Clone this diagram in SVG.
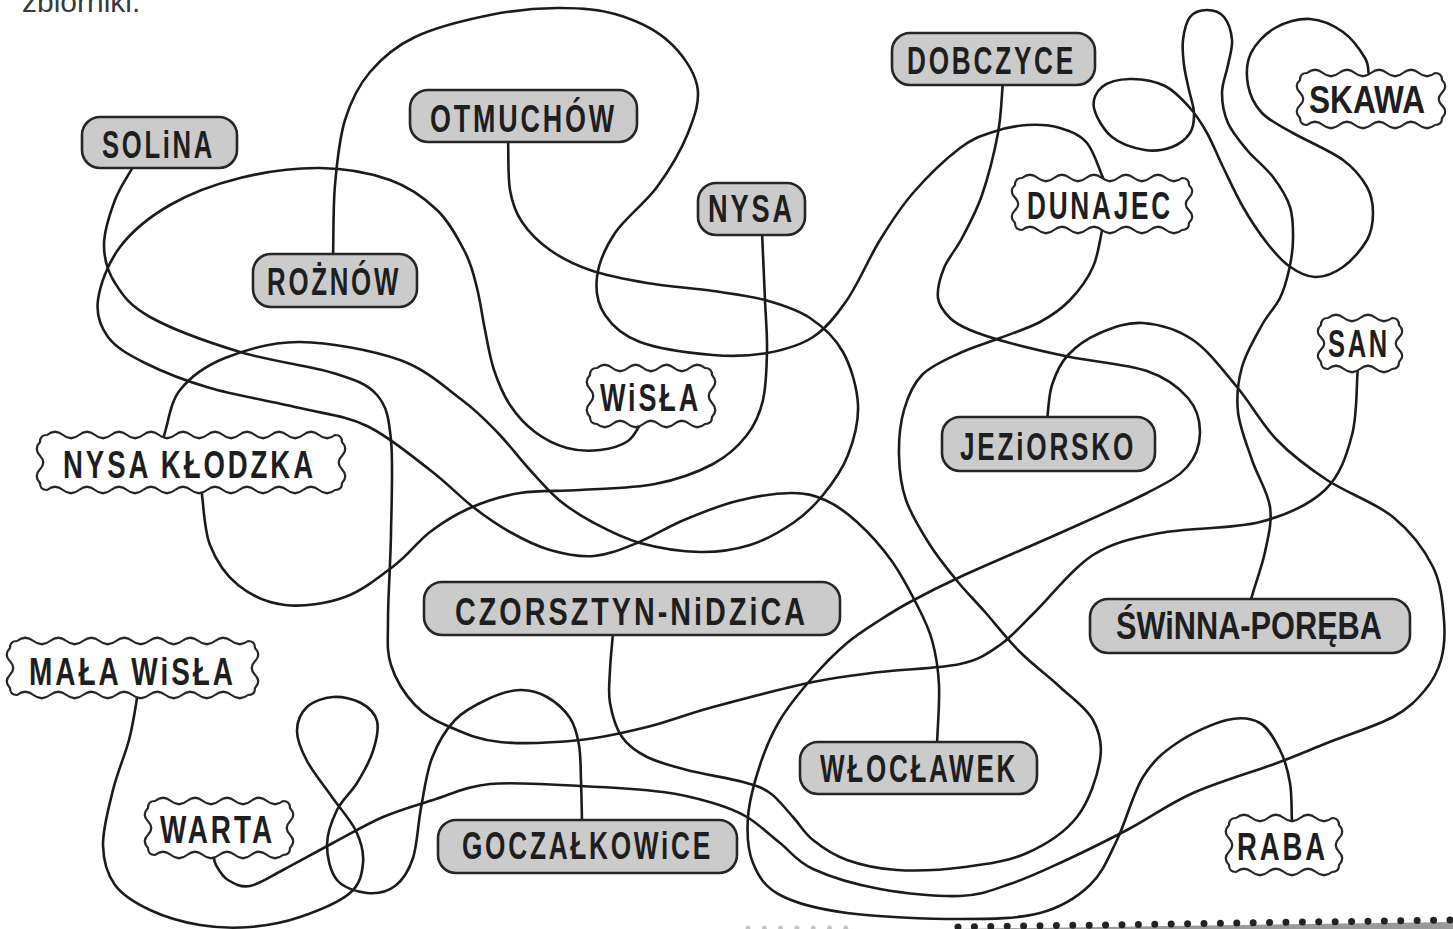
<svg xmlns="http://www.w3.org/2000/svg" width="1453" height="929" viewBox="0 0 1453 929">
<style>
.ln{fill:none;stroke:#1b1b1b;stroke-width:2.6;stroke-linecap:round;stroke-linejoin:round}
.box{fill:#cbcbcb;stroke:#262626;stroke-width:2.6}
.wave{fill:#ffffff;stroke:#262626;stroke-width:2.2;stroke-linejoin:round}
.lbl{font-family:"Liberation Sans",Arial,sans-serif;font-weight:bold;font-size:38px;letter-spacing:4px;fill:#1e1e1e}
.tight{letter-spacing:0px}
</style>
<rect x="0" y="0" width="1453" height="929" fill="#ffffff"/>
<text x="22" y="12" font-family="Liberation Sans, Arial, sans-serif" font-size="30" fill="#3a3a3a">zbiorniki.</text>

<g id="connectors">
<path class="ln" d="M333,258 C333.7,233.7 333,208 335,185 S339.2,138.8 345,120 S358.3,85.8 370,72 S395,46.5 415,37 S466.3,19.8 490,15 S536.2,8.2 557,8 S596.7,8.7 615,14 S653.3,28.2 667,40 S693.5,69.5 697,85 S694.7,116 688,133 S669.2,170.3 657,187 S625,218 615,233 S598.7,263.3 597,277 S597.8,304.2 605,315 S622,335.3 640,342 S691.8,353.2 713,355 S750.3,356 767,353 S799.7,345.8 813,337 S835.8,316.2 847,300 S869,257.8 880,240 S899.7,208.3 913,193 S946.7,158.2 960,148 S981.8,135.8 993,132 S1015.8,125.7 1027,125 S1050,125 1060,128 S1079.7,134.3 1087,143 S1098.3,167.7 1104,180"/>
<path class="ln" d="M508,139 C508.7,156 507.7,176.2 510,190 S515.3,212 522,222 S538.7,242 550,250 S573.8,264.5 590,270 S626.5,279.5 647,283 S693.3,288.2 713,291 S748.8,295.5 765,300 S797,309.3 810,318 S835,337.5 843,352 S857.2,387.8 858,405 S853.8,440 848,455 S832.2,483.7 823,495 S805.2,514.7 793,523 S765.5,540.2 750,545 S718.3,552.3 700,552 S657.7,547.8 640,543 S607.5,530.2 594,523 S569.7,508.8 559,500 S540.2,481.2 530,470 S509.3,444.7 498,433 S478.3,412.2 462,400 S427,369.7 400,360 S329.2,342.3 300,342 S245,350 225,358 S190.3,377 180,390 S168.7,422.7 163,439"/>
<path class="ln" d="M762,232 C763,254.7 764.2,280.3 765,300 S767.3,333.3 767,350 S766.3,385.8 763,400 S755.3,424.3 747,435 S728.3,455.8 713,464 S677.2,479.7 655,484 S602.5,488.5 580,490 S538.3,490 520,493 S485,501.5 470,508 S442.5,522.5 430,532 S409.2,554.2 395,565 S363.3,590.3 345,597 S302.8,607 285,605 S250.5,595 238,585 S216.2,560.8 210,545 S204,506.3 201,487"/>
<path class="ln" d="M134,165 C127.7,176.7 120,186.7 115,200 S104,231.2 104,245 S107.3,271 115,283 S129.2,305.5 150,317 S209.5,342.7 240,352 S310.2,365.8 333,373 S367.3,383.8 377,395 S388.7,417 391,440 S391.5,503 391,533 S388,598 388,620 S386.5,650.8 391,665 S405.2,694.7 415,705 S435.8,720.8 450,727 S478.3,739.8 500,742 S555.5,742.5 580,740 S624.8,732.5 647,727 S685.3,714.5 713,707 S785.2,687.8 813,682 S855.5,675 880,672 S940,668.5 960,664 S987.5,653.7 1000,645 S1019.5,627 1035,612 S1072.2,568.2 1093,555 S1132.2,538.5 1160,533 S1232.5,529.2 1260,522 S1309.7,504.5 1325,490 S1346.5,455.7 1352,435 S1356,389 1358,366"/>
<path class="ln" d="M643,420 C638,427 635.2,436 628,441 S610.2,448.8 600,450 S577.8,451 567,448 S544.5,439.2 535,432 S516.8,415.3 510,405 S498.2,382.5 494,370 S487.8,343.7 485,330 S480.3,301 477,288 S471.7,265 465,252 S449.5,222 437,210 S409.5,187 390,180 S345,168.3 320,168 S265,171.8 240,178 S190,193.5 170,205 S132,231.2 120,247 S100,285 98,300 S100.2,326.5 108,337 S128,354.5 145,363 S184.2,380.5 210,388 S273.8,401.7 300,408 S345.3,415.7 367,426 S412.3,456.5 430,470 S459.7,496.7 473,507 S497.2,524.8 510,532 S536,546 550,550 S579.5,557.2 594,556 S622,549 637,543 S667.3,527 684,520 S719.2,505.5 737,501 S776.3,493.2 791,493 S814,495.2 825,500 S846,512 857,522 S881.2,546.5 891,560 S909.2,589.7 916,603 S928.2,626.3 932,640 S938.2,667.7 939,685 S937.7,724.3 937,746"/>
<path class="ln" d="M1103,226 C1099.7,239.7 1098.5,254.7 1093,267 S1078.8,290.8 1070,300 S1051.7,315.7 1040,322 S1013.3,332.8 1000,338 S973,346.8 960,353 S931.3,365.5 922,375 S907.8,396.7 904,410 S898.7,440 899,455 S900.8,485 906,500 S921.3,531.3 930,545 S948.8,570.8 958,582 S974.7,600.3 985,612 S1007.5,639.5 1020,652 S1047.8,675.7 1060,687 S1086.3,707.8 1093,720 S1102.7,743.8 1100,760 S1089.2,801.5 1077,817 S1045.7,844.7 1027,853 S986.7,864.2 965,867 S916.7,871.2 897,870 S861,865 847,860 S822,847.2 813,840 S800.2,824.8 793,817 S778.3,798.8 770,793 S756.8,785.8 743,782 S703,774.2 687,770 S657.8,762.5 647,757 S628.2,746 622,737 S612,714.2 610,703 S609.5,681.7 610,670 S612,645.3 613,633"/>
<path class="ln" d="M1003,82 C1001.3,99 1001.5,114.2 998,133 S988,177.5 982,195 S968.3,225.8 962,238 S948,258 944,268 S937,289.7 938,298 S944.7,312.7 950,318 S960,325.8 970,330 S993.3,338.5 1010,343 S1047.2,352.3 1070,357 S1127.3,364.2 1147,371 S1179.2,387.7 1188,398 S1200.2,421.5 1200,433 S1195.8,457 1187,467 S1168.2,482 1147,493 S1091.2,519 1060,533 S985,565.5 960,577 S923.3,594.8 910,602 S890.5,613.2 880,620 S858.2,633.5 847,643 S824.2,664.2 813,677 S788.8,705.3 780,720 S765.3,748.8 760,765 S749.2,800.7 748,817 S747.7,850 753,863 S764.3,886.7 780,895 S817,909 847,913 S927.8,919 960,919 S1018.3,918.7 1040,913 S1077.2,897.2 1090,885 S1108.2,858 1117,840 S1133,793.2 1143,777 S1163,752.5 1177,743 S1213.2,723.3 1227,720 S1251.2,718 1260,723 S1275,740 1280,750 S1288,771.3 1290,783 S1291.3,807.7 1292,822"/>
<path class="ln" d="M1047,420 C1048.7,408.3 1048.5,395.8 1052,385 S1060,363.7 1068,355 S1087.5,338.3 1100,333 S1127.5,321.8 1143,323 S1177.3,329.3 1193,340 S1223,370.3 1237,387 S1262,424.5 1277,440 S1307.7,467.2 1327,480 S1375.3,502.5 1393,517 S1424.5,549.8 1433,567 S1442.7,604.5 1444,620 S1444.2,648.3 1441,660 S1433,680.5 1425,690 S1409.3,708.2 1393,717 S1346.3,735.3 1327,743 S1299.3,754.7 1277,763 S1218,781.8 1193,793 S1149.2,818.3 1127,830 S1079.5,854 1060,863 S1026.7,878.5 1010,884 S981.7,895.2 960,896 S904.5,893.5 880,889 S829.7,876.7 813,869 S791,851.7 780,843 S758.2,823.7 747,817 S727,807.2 713,803 S685.2,794.8 663,792 S608.8,787.3 580,786 S514.5,781.7 490,784 S450.8,794.5 433,800 S399.7,809.8 383,817 S349.7,834.2 333,843 S296.8,862.8 283,870 S259.2,884.3 250,886 S233.7,883.5 228,880 S218.5,869.5 216,865 S214,857 213,851"/>
<path class="ln" d="M582,822 C581.7,808 581.5,792.8 581,780 S580.8,755.3 579,745 S575.3,726 570,718 S555.3,701.7 547,697 S529.8,689.7 520,690 S498.8,694 488,699 S464.3,710.2 455,720 S437.7,743.3 432,758 S424.2,791.3 421,808 S417.3,845 413,858 S402.7,880.2 395,886 S376.7,894 367,893 S343.7,888 337,880 S327,856.7 327,845 S332,820.3 337,810 S351,792.8 357,783 S369.7,761.3 373,751 S379,729 377,721 S368.3,707 361,703 S342,696.3 333,697 S313,701.3 307,707 S297,722 297,731 S301.2,750 307,761 S323.8,785.3 332,797 S350.8,820 356,831 S364,852.7 363,863 S360.5,884 350,893 S316.7,911.3 300,917 S266.7,925.7 250,927 S216.7,927.8 200,925 S164.2,916.7 150,910 S122.8,895.8 115,885 S103.3,860.8 103,845 S108.7,807.5 113,790 S124.8,755.8 129,740 S135,710 138,692"/>
<path class="ln" d="M1250,603 C1255,584 1261.7,567.5 1265,552 S1272.2,522.3 1270,507 S1257.3,475.8 1252,460 S1239.7,427.5 1238,412 S1238,381.5 1242,367 S1255.7,336.5 1262,325 S1275.5,307.2 1280,298 S1286.8,279.7 1289,270 S1292.8,250.5 1293,240 S1293.3,217.5 1290,207 S1280.2,186.5 1273,177 S1254.5,159 1247,150 S1232.2,132.5 1228,123 S1222,102.7 1222,93 S1226.3,73.8 1228,65 S1232.7,48 1232,40 S1228.2,22 1224,17 S1212.7,10 1207,10 S1194,12 1190,17 S1184,32 1183,40 S1183,56.7 1184,65 S1187.3,82 1189,90 S1193.8,105.8 1194,113 S1193.7,127.3 1190,133 S1179.5,144.2 1172,147 S1155,151.7 1145,150 S1120.5,144 1112,137 S1095.7,116.3 1094,108 S1096,91.8 1102,87 S1119.5,79.2 1130,79 S1155,81.2 1165,86 S1183,100.2 1190,108 S1201.5,123.2 1207,133 S1217,154.7 1223,167 S1235.7,194.3 1243,207 S1259.3,233.2 1267,243 S1281,260.3 1289,266 S1306,276.8 1315,277 S1334.3,273.2 1343,267 S1362,249 1367,240 S1373,221.8 1373,213 S1372,195.8 1367,187 S1355.3,169 1343,160 S1306.5,140.8 1293,133 S1269.5,121 1262,113 S1249.8,95 1248,85 S1246.5,62.5 1251,53 S1265.2,33.7 1275,28 S1298.7,18.3 1310,19 S1333.8,25.5 1343,32 S1360.7,50.8 1365,58 S1367.7,69.3 1369,77"/>
</g>

<g id="node-solina"><rect class="box" x="82" y="117" width="155" height="51" rx="18"/><text class="lbl" x="102" y="158" textLength="113" lengthAdjust="spacingAndGlyphs">SOLiNA</text></g>
<g id="node-otmuchow"><rect class="box" x="410" y="90" width="227" height="52" rx="18"/><text class="lbl" x="430" y="132" textLength="187" lengthAdjust="spacingAndGlyphs">OTMUCHÓW</text></g>
<g id="node-dobczyce"><rect class="box" x="892" y="33" width="203" height="52" rx="18"/><text class="lbl" x="907" y="74" textLength="169" lengthAdjust="spacingAndGlyphs">DOBCZYCE</text></g>
<g id="node-nysa"><rect class="box" x="698" y="183" width="107" height="52" rx="18"/><text class="lbl" x="708" y="222" textLength="87" lengthAdjust="spacingAndGlyphs">NYSA</text></g>
<g id="node-roznow"><rect class="box" x="253" y="254" width="164" height="53" rx="18"/><text class="lbl" x="267" y="295" textLength="134" lengthAdjust="spacingAndGlyphs">ROŻNÓW</text></g>
<g id="node-jeziorsko"><rect class="box" x="942" y="417" width="213" height="54" rx="18"/><text class="lbl" x="960" y="460" textLength="176" lengthAdjust="spacingAndGlyphs">JEZiORSKO</text></g>
<g id="node-czorsztyn"><rect class="box" x="424" y="582" width="416" height="53" rx="18"/><text class="lbl" x="455" y="625" textLength="353" lengthAdjust="spacingAndGlyphs">CZORSZTYN-NiDZiCA</text></g>
<g id="node-swinna"><rect class="box" x="1090" y="599" width="320" height="54" rx="18"/><text class="lbl tight" x="1116" y="639" textLength="266" lengthAdjust="spacingAndGlyphs">ŚWiNNA-PORĘBA</text></g>
<g id="node-wloclawek"><rect class="box" x="800" y="742" width="237" height="52" rx="18"/><text class="lbl" x="820" y="782" textLength="198" lengthAdjust="spacingAndGlyphs">WŁOCŁAWEK</text></g>
<g id="node-goczalkowice"><rect class="box" x="438" y="820" width="299" height="53" rx="18"/><text class="lbl" x="462" y="859" textLength="251" lengthAdjust="spacingAndGlyphs">GOCZAŁKOWiCE</text></g>

<g id="node-skawa"><path class="wave" transform="translate(1300,73)" d="M7,0 q8,-6.5 16,0 t16,0 t16,0 t16,0 t16,0 t16,0 t16,0 t16,0 Q142,0 142,7 q6.5,6.33 0,12.67 t0,12.67 t0,12.66 Q142,52 135,52 q-8,6.5 -16,0 t-16,0 t-16,0 t-16,0 t-16,0 t-16,0 t-16,0 t-16,0 Q0,52 0,45 q-6.5,-6.33 0,-12.67 t0,-12.67 t0,-12.66 Q0,0 7,0Z"/><text class="lbl tight" x="1309" y="113" textLength="116" lengthAdjust="spacingAndGlyphs">SKAWA</text></g>
<g id="node-dunajec"><path class="wave" transform="translate(1015,178)" d="M7,0 q8,-6.5 16,0 t16,0 t16,0 t16,0 t16,0 t16,0 t16,0 t16,0 t16,0 t16,0 Q174,0 174,7 q6.5,6.33 0,12.67 t0,12.67 t0,12.66 Q174,52 167,52 q-8,6.5 -16,0 t-16,0 t-16,0 t-16,0 t-16,0 t-16,0 t-16,0 t-16,0 t-16,0 t-16,0 Q0,52 0,45 q-6.5,-6.33 0,-12.67 t0,-12.67 t0,-12.66 Q0,0 7,0Z"/><text class="lbl" x="1027" y="219" textLength="146" lengthAdjust="spacingAndGlyphs">DUNAJEC</text></g>
<g id="node-san"><path class="wave" transform="translate(1321,318)" d="M7,0 q8,-6.5 16,0 t16,0 t16,0 t16,0 Q78,0 78,7 q6.5,6.17 0,12.33 t0,12.33 t0,12.34 Q78,51 71,51 q-8,6.5 -16,0 t-16,0 t-16,0 t-16,0 Q0,51 0,44 q-6.5,-6.17 0,-12.33 t0,-12.33 t0,-12.34 Q0,0 7,0Z"/><text class="lbl" x="1328" y="357" textLength="62" lengthAdjust="spacingAndGlyphs">SAN</text></g>
<g id="node-wisla"><path class="wave" transform="translate(590,368)" d="M7,0 q7.71,-6.5 15.43,0 t15.43,0 t15.43,0 t15.43,0 t15.43,0 t15.43,0 t15.42,0 Q122,0 122,7 q6.5,7 0,14 t0,14 t0,14 Q122,56 115,56 q-7.71,6.5 -15.43,0 t-15.43,0 t-15.43,0 t-15.43,0 t-15.43,0 t-15.43,0 t-15.42,0 Q0,56 0,49 q-6.5,-7 0,-14 t0,-14 t0,-14 Q0,0 7,0Z"/><text class="lbl" x="600" y="411" textLength="101" lengthAdjust="spacingAndGlyphs">WiSŁA</text></g>
<g id="node-nysa-klodzka"><path class="wave" transform="translate(40,435)" d="M7,0 q8,-6.5 16,0 t16,0 t16,0 t16,0 t16,0 t16,0 t16,0 t16,0 t16,0 t16,0 t16,0 t16,0 t16,0 t16,0 t16,0 t16,0 t16,0 t16,0 Q302,0 302,7 q6.5,6.83 0,13.67 t0,13.67 t0,13.66 Q302,55 295,55 q-8,6.5 -16,0 t-16,0 t-16,0 t-16,0 t-16,0 t-16,0 t-16,0 t-16,0 t-16,0 t-16,0 t-16,0 t-16,0 t-16,0 t-16,0 t-16,0 t-16,0 t-16,0 t-16,0 Q0,55 0,48 q-6.5,-6.83 0,-13.67 t0,-13.67 t0,-13.66 Q0,0 7,0Z"/><text class="lbl" x="63" y="478" textLength="253" lengthAdjust="spacingAndGlyphs">NYSA KŁODZKA</text></g>
<g id="node-mala-wisla"><path class="wave" transform="translate(10,641)" d="M7,0 q8.25,-6.5 16.5,0 t16.5,0 t16.5,0 t16.5,0 t16.5,0 t16.5,0 t16.5,0 t16.5,0 t16.5,0 t16.5,0 t16.5,0 t16.5,0 t16.5,0 t16.5,0 Q245,0 245,7 q6.5,6.67 0,13.33 t0,13.33 t0,13.34 Q245,54 238,54 q-8.25,6.5 -16.5,0 t-16.5,0 t-16.5,0 t-16.5,0 t-16.5,0 t-16.5,0 t-16.5,0 t-16.5,0 t-16.5,0 t-16.5,0 t-16.5,0 t-16.5,0 t-16.5,0 t-16.5,0 Q0,54 0,47 q-6.5,-6.67 0,-13.33 t0,-13.33 t0,-13.34 Q0,0 7,0Z"/><text class="lbl" x="29" y="685" textLength="207" lengthAdjust="spacingAndGlyphs">MAŁA WiSŁA</text></g>
<g id="node-warta"><path class="wave" transform="translate(148,801)" d="M7,0 q8,-6.5 16,0 t16,0 t16,0 t16,0 t16,0 t16,0 t16,0 t16,0 Q142,0 142,7 q6.5,6.67 0,13.33 t0,13.33 t0,13.34 Q142,54 135,54 q-8,6.5 -16,0 t-16,0 t-16,0 t-16,0 t-16,0 t-16,0 t-16,0 t-16,0 Q0,54 0,47 q-6.5,-6.67 0,-13.33 t0,-13.33 t0,-13.34 Q0,0 7,0Z"/><text class="lbl" x="160" y="843" textLength="115" lengthAdjust="spacingAndGlyphs">WARTA</text></g>
<g id="node-raba"><path class="wave" transform="translate(1229,818)" d="M7,0 q8,-6.5 16,0 t16,0 t16,0 t16,0 t16,0 t16,0 Q110,0 110,7 q6.5,6.67 0,13.33 t0,13.33 t0,13.34 Q110,54 103,54 q-8,6.5 -16,0 t-16,0 t-16,0 t-16,0 t-16,0 t-16,0 Q0,54 0,47 q-6.5,-6.67 0,-13.33 t0,-13.33 t0,-13.34 Q0,0 7,0Z"/><text class="lbl" x="1237" y="860" textLength="91" lengthAdjust="spacingAndGlyphs">RABA</text></g>

<g id="bottom-strip">
<polygon points="955,929 1453,922 1453,929" fill="#9a9a9a"/>
<line x1="748" y1="928" x2="862" y2="928" stroke="#c4c4c4" stroke-width="5" stroke-linecap="round" stroke-dasharray="0 16.3"/>
<line x1="958" y1="927" x2="1450" y2="920" stroke="#222" stroke-width="7" stroke-linecap="round" stroke-dasharray="0 16.4"/>
</g>
</svg>
